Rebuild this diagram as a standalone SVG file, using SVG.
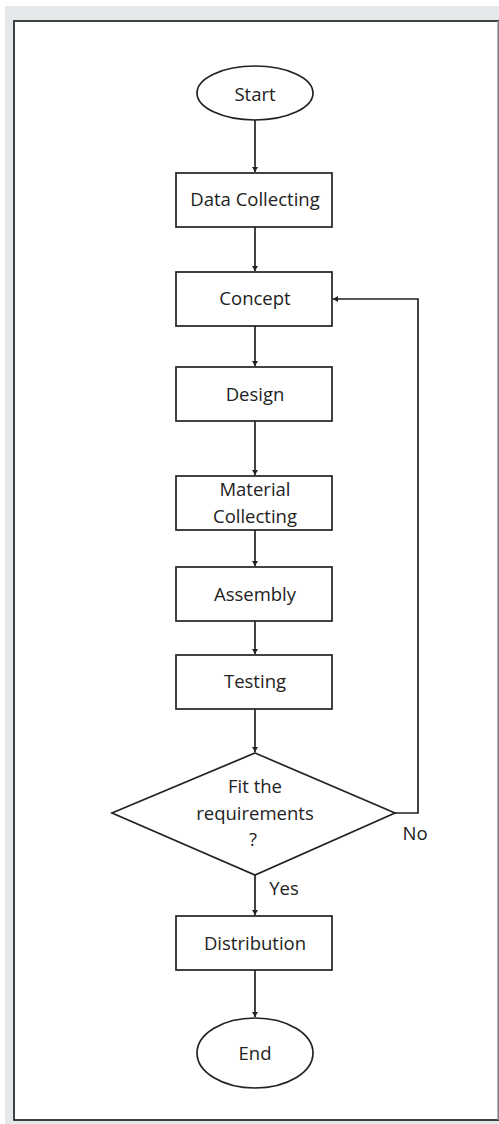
<svg xmlns="http://www.w3.org/2000/svg" width="499" height="1124" viewBox="0 0 499 1124">
<style>
.n{fill:#fff;stroke:#222;stroke-width:1.7}
.t{font-family:"Open Sans","Liberation Sans",sans-serif;font-size:18.5px;fill:#222;text-anchor:middle;dominant-baseline:central}
.c{fill:none;stroke:#222;stroke-width:1.7}
</style>
<defs>
<marker id="ah" markerWidth="6" markerHeight="6" refX="5" refY="3" orient="auto" markerUnits="userSpaceOnUse">
<path d="M0,0 L5,3 L0,6 z" fill="#222"/>
</marker>
</defs>
<rect x="5" y="6" width="494" height="1118" fill="#e5e8eb"/>
<rect x="14" y="21" width="485" height="1099" fill="#fff" stroke="#222" stroke-width="1.7"/>
<line x1="498" y1="21" x2="498" y2="1120" stroke="#999" stroke-width="1.5"/>
<g id="connectors">
<path class="c" d="M255,120 V172" marker-end="url(#ah)"/>
<path class="c" d="M255,227 V271" marker-end="url(#ah)"/>
<path class="c" d="M255,326 V366" marker-end="url(#ah)"/>
<path class="c" d="M255,421 V475" marker-end="url(#ah)"/>
<path class="c" d="M255,530 V566" marker-end="url(#ah)"/>
<path class="c" d="M255,621 V654" marker-end="url(#ah)"/>
<path class="c" d="M255,709 V752" marker-end="url(#ah)"/>
<path class="c" d="M255,875 V915" marker-end="url(#ah)"/>
<path class="c" d="M255,970 V1017" marker-end="url(#ah)"/>
<path class="c" d="M395,813 H418 V299 H333" marker-end="url(#ah)"/>
<text class="t" x="415" y="832">No</text>
<text class="t" x="284" y="887">Yes</text>
</g>
<g id="start"><ellipse class="n" cx="255" cy="93" rx="58" ry="27"/><text class="t" x="255" y="93">Start</text></g>
<g id="data"><rect class="n" x="176" y="173" width="156" height="54"/><text class="t" x="255" y="198">Data Collecting</text></g>
<g id="concept"><rect class="n" x="176" y="272" width="156" height="54"/><text class="t" x="255" y="297">Concept</text></g>
<g id="design"><rect class="n" x="176" y="367" width="156" height="54"/><text class="t" x="255" y="393">Design</text></g>
<g id="material"><rect class="n" x="176" y="476" width="156" height="54"/><text class="t" x="255" y="488">Material</text><text class="t" x="255" y="515">Collecting</text></g>
<g id="assembly"><rect class="n" x="176" y="567" width="156" height="54"/><text class="t" x="255" y="593">Assembly</text></g>
<g id="testing"><rect class="n" x="176" y="655" width="156" height="54"/><text class="t" x="255" y="680">Testing</text></g>
<g id="decision"><polygon class="n" points="255,753 395,813 255,875 112,813"/><text class="t" x="255" y="785">Fit the</text><text class="t" x="255" y="812">requirements</text><text class="t" x="253" y="838">?</text></g>
<g id="distribution"><rect class="n" x="176" y="916" width="156" height="54"/><text class="t" x="255" y="942">Distribution</text></g>
<g id="end"><ellipse class="n" cx="255" cy="1053" rx="58" ry="35"/><text class="t" x="255" y="1052">End</text></g>
</svg>
